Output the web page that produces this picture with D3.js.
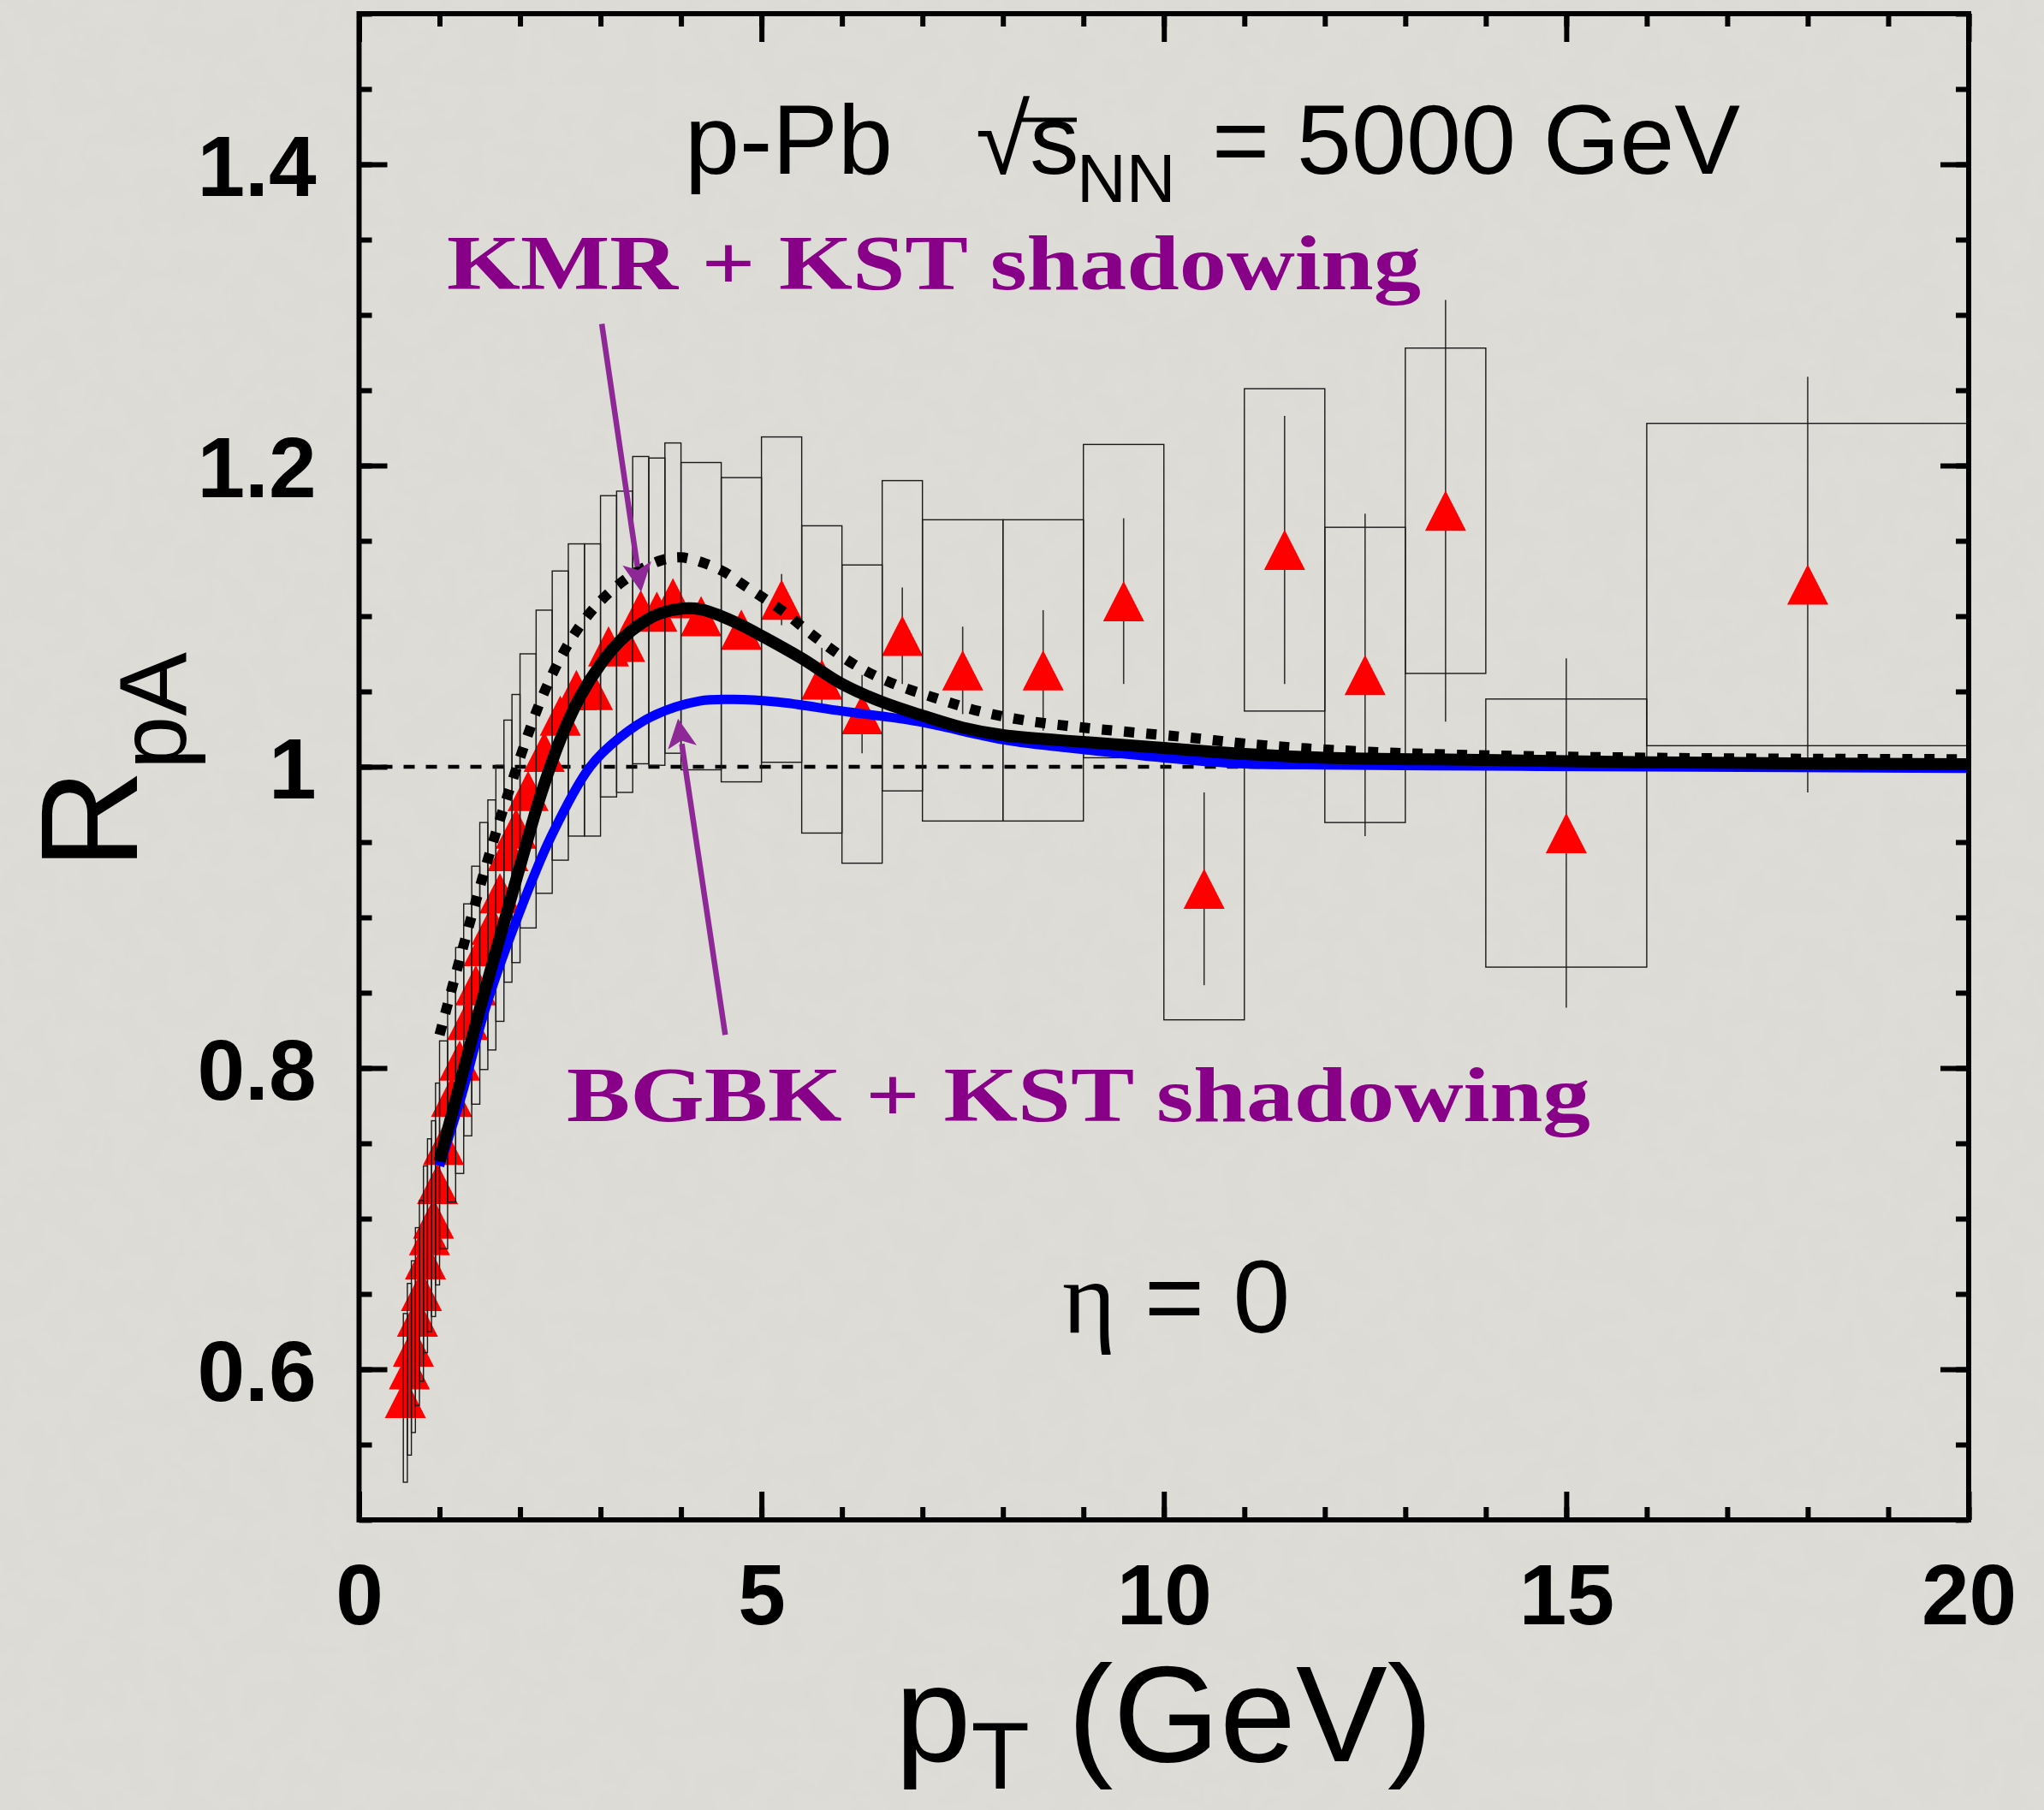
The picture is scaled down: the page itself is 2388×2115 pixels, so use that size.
<!DOCTYPE html>
<html>
<head>
<meta charset="utf-8">
<script src="https://cdn.jsdelivr.net/npm/d3@7"></script>
<style>
  html, body { margin: 0; padding: 0; background: #dfddd8; }
  svg { display: block; }
</style>
</head>
<body>
<svg id="chart" width="2388" height="2115"></svg>
<script>
// ---- measured nuclear modification factor, p-Pb, eta = 0 ----
const binEdges = [0.55, 0.6, 0.65, 0.7, 0.75, 0.8, 0.85, 0.9, 0.95, 1.0,
                  1.1, 1.2, 1.3, 1.4, 1.5, 1.6, 1.7, 1.8, 1.9, 2.0,
                  2.2, 2.4, 2.6, 2.8, 3.0, 3.2, 3.4, 3.6, 3.8, 4.0,
                  4.5, 5.0, 5.5, 6.0, 6.5, 7.0,
                  8, 9, 10, 11, 12, 13, 14, 16, 20];
const pT = [0.575, 0.625, 0.675, 0.725, 0.775, 0.825, 0.875, 0.925, 0.975,
            1.05, 1.15, 1.25, 1.35, 1.45, 1.55, 1.65, 1.75, 1.85, 1.95,
            2.1, 2.3, 2.5, 2.7, 2.9, 3.1, 3.3, 3.5, 3.7, 3.9,
            4.25, 4.75, 5.25, 5.75, 6.25, 6.75,
            7.5, 8.5, 9.5, 10.5, 11.5, 12.5, 13.5, 15, 18];
const rpA = [0.581, 0.600, 0.615, 0.635, 0.652, 0.673, 0.689, 0.700, 0.723,
             0.749, 0.781, 0.805, 0.832, 0.855, 0.881, 0.895, 0.916, 0.944, 0.959,
             0.984, 1.010, 1.034, 1.051, 1.051, 1.080, 1.083, 1.104, 1.103, 1.112,
             1.100, 1.091, 1.111, 1.058, 1.035, 1.087,
             1.064, 1.064, 1.110, 0.919, 1.144, 1.061, 1.170, 0.956, 1.121];
const statErr = [0.008, 0.008, 0.008, 0.008, 0.008, 0.008, 0.008, 0.008, 0.008,
                 0.006, 0.006, 0.006, 0.006, 0.006, 0.006, 0.006, 0.006, 0.006, 0.006,
                 0.008, 0.008, 0.008, 0.008, 0.008, 0.008, 0.008, 0.008, 0.008, 0.008,
                 0.010, 0.012, 0.017, 0.021, 0.026, 0.032,
                 0.029, 0.040, 0.055, 0.064, 0.089, 0.107, 0.140, 0.116, 0.138];
const sysErr = [0.056, 0.057, 0.057, 0.059, 0.060, 0.062, 0.064, 0.065, 0.067,
                0.069, 0.070, 0.075, 0.077, 0.079, 0.082, 0.083, 0.085, 0.087, 0.089,
                0.091, 0.094, 0.096, 0.097, 0.097, 0.100, 0.100, 0.102, 0.102, 0.103,
                0.102, 0.101, 0.108, 0.102, 0.099, 0.103,
                0.100, 0.100, 0.104, 0.087, 0.107, 0.098, 0.108, 0.089, 0.107];

// ---- model curves ----
const kmrPt = [1.0, 1.25, 1.5, 1.75, 2.0, 2.25, 2.5, 2.75, 3.0, 3.25, 3.5, 3.75, 4.0,
               4.25, 4.5, 4.75, 5.0, 5.5, 6.0, 6.5, 7.0, 7.5, 8.0, 9.0, 10, 11, 12, 14, 16, 20];
const kmrR  = [0.738, 0.789, 0.839, 0.887, 0.934, 0.980, 1.018, 1.047, 1.068, 1.084, 1.095, 1.102, 1.105,
               1.1045, 1.100, 1.094, 1.087, 1.072, 1.055, 1.043, 1.034, 1.026, 1.021, 1.0165, 1.0125, 1.0085, 1.006, 1.0045, 1.003, 1.0017];

const kmrAltPt = [1.0, 1.25, 1.5, 1.75, 2.0, 2.25, 2.5, 2.75, 3.0, 3.25, 3.5, 3.75, 4.0,
                  4.3, 4.55, 4.77, 5.0, 5.25, 5.67, 6.15, 6.6, 7.2, 7.7, 8.25, 9.0,
                  10.2, 11.3, 13, 16, 20];
const kmrAltR  = [0.822, 0.872, 0.920, 0.965, 1.006, 1.043, 1.072, 1.094, 1.110, 1.122, 1.131, 1.137, 1.139,
                  1.135, 1.129, 1.121, 1.113, 1.104, 1.086, 1.068, 1.056, 1.045, 1.037, 1.031, 1.026,
                  1.020, 1.014, 1.009, 1.006, 1.005];

const bgbkPt = [1.0, 1.275, 1.566, 1.94, 2.38, 2.87, 3.23, 3.66, 4.23, 4.65, 5.2, 6.0,
                6.95, 8.0, 9.0, 10, 11, 12, 14, 16, 20];
const bgbkR  = [0.735, 0.782, 0.839, 0.896, 0.953, 1.0, 1.019, 1.034, 1.0437, 1.0447, 1.043, 1.037,
                1.030, 1.018, 1.0115, 1.006, 1.002, 1.0013, 1.0005, 1.0, 0.999];

// ---- axes ----
const xTickValues = [0, 5, 10, 15, 20];
const xTickLabels = ["0", "5", "10", "15", "20"];
const yTickValues = [0.6, 0.8, 1.0, 1.2, 1.4];
const yTickLabels = ["0.6", "0.8", "1", "1.2", "1.4"];
const xMinorValues = d3.range(0, 21, 1);
const yMinorValues = d3.range(0, 21).map(i => 0.5 + i * 0.05);

const W = 2388, H = 2115;
const frame = { left: 419.5, right: 2300, top: 16, bottom: 1776 };

const x = d3.scaleLinear().domain([0, 20]).range([frame.left, frame.right]);
const y = d3.scaleLinear().domain([0.5, 1.5]).range([frame.bottom, frame.top]);

const svg = d3.select("#chart");

// paper-like backdrop
const defs = svg.append("defs");
const grain = defs.append("filter").attr("id", "grain")
  .attr("x", 0).attr("y", 0).attr("width", "100%").attr("height", "100%");
grain.append("feTurbulence").attr("type", "fractalNoise")
  .attr("baseFrequency", 0.03).attr("numOctaves", 3).attr("seed", 7);
grain.append("feColorMatrix").attr("type", "matrix")
  .attr("values", "0 0 0 0 0.5  0 0 0 0 0.5  0 0 0 0 0.48  0 0 0 0.09 0");
svg.append("rect").attr("width", W).attr("height", H).attr("fill", "#dfddd8");
svg.append("rect").attr("width", W).attr("height", H).attr("filter", "url(#grain)");

const sans = "'Liberation Sans', Arial, Helvetica, sans-serif";
const serif = "'Liberation Serif', 'Times New Roman', serif";

// reference line at R = 1
svg.append("line")
  .attr("x1", x(0)).attr("x2", x(20))
  .attr("y1", y(1)).attr("y2", y(1))
  .attr("stroke", "#000").attr("stroke-width", 4.5)
  .attr("stroke-dasharray", "13,13");

const points = pT.map((p, i) => ({
  p, r: rpA[i], stat: statErr[i], sys: sysErr[i], lo: binEdges[i], hi: binEdges[i + 1]
}));

// statistical error bars
svg.append("g").selectAll("line").data(points).join("line")
  .attr("x1", d => x(d.p)).attr("x2", d => x(d.p))
  .attr("y1", d => y(d.r - d.stat)).attr("y2", d => y(d.r + d.stat))
  .attr("stroke", "#333").attr("stroke-width", 1.6);

// markers
const triW = 48, triH = 47;
svg.append("g").selectAll("path").data(points).join("path")
  .attr("d", d => {
    const cx = x(d.p), cy = y(d.r);
    return `M${cx},${cy - triH / 2}L${cx + triW / 2},${cy + triH / 2}L${cx - triW / 2},${cy + triH / 2}Z`;
  })
  .attr("fill", "#ff0000");

// systematic boxes
svg.append("g").selectAll("rect").data(points).join("rect")
  .attr("x", d => x(d.lo))
  .attr("width", d => x(d.hi) - x(d.lo))
  .attr("y", d => y(d.r + d.sys))
  .attr("height", d => y(d.r - d.sys) - y(d.r + d.sys))
  .attr("fill", "none").attr("stroke", "#1a1a1a").attr("stroke-width", 1.4);

// model curves
const line = d3.line().x(d => x(d[0])).y(d => y(d[1])).curve(d3.curveCatmullRom.alpha(0.5));
svg.append("path").datum(d3.zip(bgbkPt, bgbkR)).attr("d", line)
  .attr("fill", "none").attr("stroke", "#0000ff").attr("stroke-width", 11);
svg.append("path").datum(d3.zip(kmrPt, kmrR)).attr("d", line)
  .attr("fill", "none").attr("stroke", "#000").attr("stroke-width", 14);
svg.append("path").datum(d3.zip(kmrAltPt, kmrAltR)).attr("d", line)
  .attr("fill", "none").attr("stroke", "#000").attr("stroke-width", 12)
  .attr("stroke-dasharray", "12,14");

// axes: minor and major ticks on all four sides, pointing inward
function tidy(g) {
  g.select(".domain").remove();
  g.selectAll("line").attr("stroke", "#000").attr("stroke-width", 6);
  g.attr("font-family", sans).attr("font-size", 100).attr("font-weight", "bold");
  g.selectAll("text").attr("fill", "#000");
}
svg.append("g").attr("transform", `translate(0,${frame.bottom})`)
  .call(d3.axisBottom(x).tickValues(xMinorValues).tickSize(-15).tickFormat("")).call(tidy);
svg.append("g").attr("transform", `translate(0,${frame.bottom})`)
  .call(d3.axisBottom(x).tickValues(xTickValues).tickSize(-33).tickPadding(51)
        .tickFormat((d, i) => xTickLabels[i])).call(tidy);
svg.append("g").attr("transform", `translate(0,${frame.top})`)
  .call(d3.axisTop(x).tickValues(xMinorValues).tickSize(-15).tickFormat("")).call(tidy);
svg.append("g").attr("transform", `translate(0,${frame.top})`)
  .call(d3.axisTop(x).tickValues(xTickValues).tickSize(-33).tickFormat("")).call(tidy);
svg.append("g").attr("transform", `translate(${frame.left},0)`)
  .call(d3.axisLeft(y).tickValues(yMinorValues).tickSize(-15).tickFormat("")).call(tidy);
const yMajor = svg.append("g").attr("transform", `translate(${frame.left},0)`)
  .call(d3.axisLeft(y).tickValues(yTickValues).tickSize(-33).tickPadding(50)
        .tickFormat((d, i) => yTickLabels[i])).call(tidy);
yMajor.selectAll("text").attr("dy", "0.36em");
svg.append("g").attr("transform", `translate(${frame.right},0)`)
  .call(d3.axisRight(y).tickValues(yMinorValues).tickSize(-15).tickFormat("")).call(tidy);
svg.append("g").attr("transform", `translate(${frame.right},0)`)
  .call(d3.axisRight(y).tickValues(yTickValues).tickSize(-33).tickFormat("")).call(tidy);

svg.append("rect")
  .attr("x", frame.left).attr("y", frame.top)
  .attr("width", frame.right - frame.left).attr("height", frame.bottom - frame.top)
  .attr("fill", "none").attr("stroke", "#000").attr("stroke-width", 6);

// axis titles
const xTitle = svg.append("text")
  .attr("x", (frame.left + frame.right) / 2).attr("y", 2058)
  .attr("text-anchor", "middle")
  .attr("font-family", sans).attr("font-size", 160).attr("fill", "#000");
xTitle.append("tspan").text("p");
xTitle.append("tspan").attr("font-size", 112).attr("dy", 32).text("T");
xTitle.append("tspan").attr("dy", -32).text(" (GeV)");

const yTitle = svg.append("text")
  .attr("transform", `translate(160,${(frame.top + frame.bottom) / 2 + 120}) rotate(-90)`)
  .attr("font-family", sans).attr("font-size", 162).attr("fill", "#000");
yTitle.append("tspan").text("R");
yTitle.append("tspan").attr("font-size", 112).attr("dy", 57).text("pA");

// collision system header
const head = svg.append("g").attr("font-family", sans).attr("fill", "#000");
head.append("text").attr("x", 800).attr("y", 203).attr("font-size", 115).text("p-Pb");
head.append("text").attr("x", 1140).attr("y", 203).attr("font-size", 115).text("√");
head.append("text").attr("x", 1203).attr("y", 203).attr("font-size", 115).text("s");
head.append("line").attr("x1", 1192).attr("x2", 1258).attr("y1", 140).attr("y2", 140)
  .attr("stroke", "#000").attr("stroke-width", 5);
head.append("text").attr("x", 1258).attr("y", 236).attr("font-size", 80).text("NN");
head.append("text").attr("x", 1416).attr("y", 203).attr("font-size", 115).text("= 5000 GeV");

// rapidity
const eta = svg.append("text").attr("x", 1241).attr("y", 1557)
  .attr("font-size", 120).attr("fill", "#000");
eta.append("tspan").attr("font-family", serif).text("η");
eta.append("tspan").attr("font-family", sans).text(" = 0");

// model labels with arrows
const purple = "#880088", arrowPurple = "#8e2896";
svg.append("text").attr("x", 522).attr("y", 338)
  .attr("font-family", serif).attr("font-weight", "bold").attr("font-size", 90)
  .attr("fill", purple).attr("textLength", 1138).attr("lengthAdjust", "spacingAndGlyphs")
  .text("KMR + KST shadowing");
svg.append("text").attr("x", 662).attr("y", 1310)
  .attr("font-family", serif).attr("font-weight", "bold").attr("font-size", 90)
  .attr("fill", purple).attr("textLength", 1196).attr("lengthAdjust", "spacingAndGlyphs")
  .text("BGBK + KST shadowing");

const arrows = [
  { from: [3.016, 1.294], to: [3.505, 1.116] },
  { from: [4.55, 0.822], to: [3.963, 1.032] }
];
arrows.forEach(a => {
  const x0 = x(a.from[0]), y0 = y(a.from[1]), x1 = x(a.to[0]), y1 = y(a.to[1]);
  const len = Math.hypot(x1 - x0, y1 - y0), ux = (x1 - x0) / len, uy = (y1 - y0) / len;
  const headL = 34, headW = 17;
  const bx = x1 - ux * headL, by = y1 - uy * headL;
  svg.append("line").attr("x1", x0).attr("y1", y0).attr("x2", bx + ux * 4).attr("y2", by + uy * 4)
    .attr("stroke", arrowPurple).attr("stroke-width", 6.5);
  svg.append("path")
    .attr("d", `M${x1},${y1}L${bx - uy * headW},${by + ux * headW}L${bx + ux * 8},${by + uy * 8}L${bx + uy * headW},${by - ux * headW}Z`)
    .attr("fill", arrowPurple);
});
</script>
</body>
</html>
